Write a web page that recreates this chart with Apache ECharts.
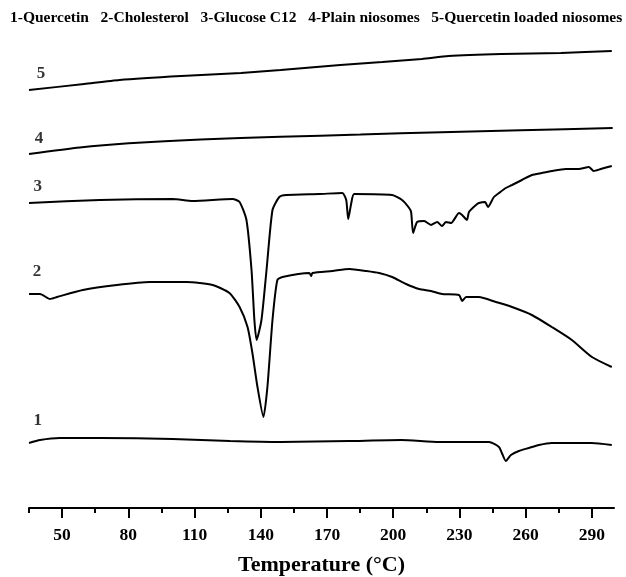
<!DOCTYPE html>
<html>
<head>
<meta charset="utf-8">
<script src="https://cdn.jsdelivr.net/npm/echarts@6/dist/echarts.min.js"></script>
<style>
  html, body { margin: 0; padding: 0; background: #fff; }
  #main { width: 626px; height: 577px; }
</style>
</head>
<body>
<div id="main"></div>
<script>
// DSC thermograms, [temperature °C, heat flow (a.u., offset)]
let quercetin = [
  [35, 65], [40, 68], [49, 70], [67, 70], [100, 69], [126, 67], [149, 66], [180, 67],
  [203.6, 68], [220.8, 66], [243.4, 66], [247.9, 61], [249.2, 55], [251, 47], [253.3, 53],
  [256.9, 57], [261.4, 60], [266, 63], [271.8, 65], [284, 65], [289.9, 65], [299, 63]
];
let cholesterol = [
  [35, 214], [40, 214], [44.5, 209], [47.7, 211], [59.4, 218], [74.8, 223], [89.7, 226],
  [106.4, 226], [118.2, 223], [125.8, 215], [130.4, 201], [134, 181], [136.2, 155],
  [138.5, 121], [141.2, 91], [143, 121], [145.3, 188], [147.5, 228], [149.8, 231],
  [162, 235], [162.8, 232], [163.4, 235], [172.4, 237], [180.1, 239], [187.8, 237],
  [193.6, 235], [199.5, 231], [205.8, 224], [211.7, 219], [217.1, 217], [222.1, 214],
  [229.8, 213], [231.2, 207], [233, 211], [238.8, 211], [246.5, 206], [253.8, 201],
  [262.8, 193], [271.8, 181], [280.9, 168], [290, 151], [299, 141]
];
let glucoseC12 = [
  [35, 305], [67.1, 308], [100.1, 309], [109.1, 307], [127.2, 309], [130.4, 306],
  [133.5, 288], [135.8, 238], [137.1, 188], [138.1, 168], [140.3, 188], [142.6, 238],
  [145.3, 298], [148.4, 311], [151.6, 313], [166.5, 314], [176.9, 315], [178.7, 308],
  [179.6, 289], [181, 305], [182.3, 314], [199.5, 313], [204, 308], [207.2, 300],
  [208.1, 296], [209, 275], [210.8, 286], [214, 287], [217.1, 283], [219.9, 286],
  [222.1, 282], [223.9, 286], [226.2, 285], [229.8, 295], [231.2, 293], [233.4, 288],
  [234.3, 296], [237.5, 303], [238.8, 305], [241.6, 306], [242.9, 301], [245.6, 311],
  [247.9, 315], [251, 320], [253.8, 323], [258.3, 328], [262.8, 333], [267.3, 335],
  [271.8, 337], [278.2, 339], [284, 339], [288.6, 341], [290.8, 337], [294, 339], [299, 342]
];
let plainNiosomes = [
  [35, 354], [58, 360.5], [80.2, 364.7], [112.7, 368.6], [148.9, 371.2],
  [185.1, 373.5], [221.7, 375.8], [257.8, 377.7], [299.4, 380]
];
let loadedNiosomes = [
  [35, 418], [60, 424], [76, 428], [104, 432], [131, 435], [149, 438], [176, 443],
  [195, 446], [213, 449], [225, 452], [249, 454], [276, 455], [299, 457]
];

let curveNumbers = ['1', '2', '3', '4', '5'];
let numberAnchors = [[39, 87], [38.6, 236], [39, 321], [39.5, 369], [40.4, 434]];
let majorTicks = [50, 80, 110, 140, 170, 200, 230, 260, 290];
let minorTicks = [35, 65, 95, 125, 155, 185, 215, 245, 275];
let legendText = '1-Quercetin   2-Cholesterol   3-Glucose C12   4-Plain niosomes   5-Quercetin loaded niosomes';

let serif = '"Liberation Serif", "DejaVu Serif", serif';

function curve(name, data) {
  return {
    name: name,
    type: 'line',
    data: data,
    showSymbol: false,
    smooth: 0.2,
    lineStyle: { color: '#000', width: 2 },
    animation: false
  };
}

let chartDom = document.getElementById('main');
let mycharts = echarts.init(chartDom);
let option = {
  animation: false,
  title: {
    text: legendText,
    left: 10,
    top: 10,
    padding: 0,
    textStyle: { fontFamily: serif, fontWeight: 'bold', fontSize: 15.5, color: '#000' }
  },
  grid: { left: 29, right: 12, top: 10, bottom: 69, outerBoundsMode: 'none' },
  xAxis: [
    {
      type: 'value',
      min: 35,
      max: 300,
      name: 'Temperature (°C)',
      nameLocation: 'middle',
      nameGap: 46,
      nameTextStyle: { fontFamily: serif, fontWeight: 'bold', fontSize: 22, color: '#000' },
      splitLine: { show: false },
      axisLine: { lineStyle: { color: '#000', width: 2 } },
      axisTick: { customValues: majorTicks, length: 10, lineStyle: { color: '#000', width: 2 } },
      axisLabel: {
        customValues: majorTicks,
        margin: 18,
        fontFamily: serif, fontWeight: 'bold', fontSize: 17.5, color: '#000'
      }
    },
    {
      type: 'value',
      min: 35,
      max: 300,
      position: 'bottom',
      splitLine: { show: false },
      axisLine: { show: false },
      axisTick: { customValues: minorTicks, length: 5, lineStyle: { color: '#000', width: 2 } },
      axisLabel: { show: false }
    }
  ],
  yAxis: { type: 'value', min: 0, max: 498, show: false },
  series: [
    curve('1-Quercetin', quercetin),
    curve('2-Cholesterol', cholesterol),
    curve('3-Glucose C12', glucoseC12),
    curve('4-Plain niosomes', plainNiosomes),
    curve('5-Quercetin loaded niosomes', loadedNiosomes),
    {
      type: 'scatter',
      data: numberAnchors,
      symbolSize: 1,
      itemStyle: { color: 'rgba(0,0,0,0)' },
      label: {
        show: true,
        position: 'inside',
        formatter: function (p) { return curveNumbers[p.dataIndex]; },
        fontFamily: serif, fontWeight: 'bold', fontSize: 17, color: '#000'
      },
      silent: true
    }
  ]
};
option && mycharts.setOption(option);
</script>
</body>
</html>
